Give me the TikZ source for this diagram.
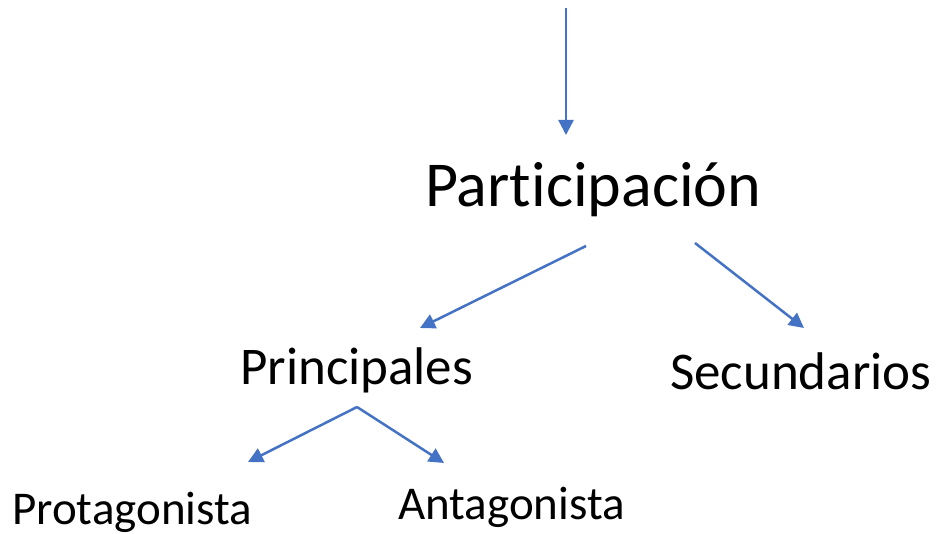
\documentclass[tikz,border=0pt]{standalone}
\usepackage{fontspec}
\setmainfont{Carlito}[Ligatures=NoCommon]
\usetikzlibrary{arrows.meta}
\definecolor{flecha}{HTML}{4472C4}

\begin{document}
\begin{tikzpicture}[x=1pt,y=-1pt,>={Triangle[length=15pt,width=15pt]},
  conector/.style={->,draw=flecha,fill=flecha,line width=2.5pt},
  titulo/.style={anchor=base west,inner sep=0pt,font=\fontsize{64}{76}\selectfont},
  rama/.style={anchor=base west,inner sep=0pt,font=\fontsize{53}{62}\selectfont},
  hoja/.style={anchor=base west,inner sep=0pt,font=\fontsize{47}{56}\selectfont}]
                \useasboundingbox (0,0) rectangle (938,534);
                \node[titulo] (P) at (425,207) {Participación};
                \node[rama] (PR) at (240,385) {Principales};
                \node[rama] (SE) at (670,390) {Secundarios};
                \node[hoja] (PT) at (12,525) {Protagonista};
                \node[hoja] (AN) at (398,520) {Antagonista};
                \coordinate (entrada) at (566,8);
                \coordinate (Parriba) at (566,135);
                \coordinate (Pizq) at (586,246);
                \coordinate (Pder) at (695,243);
                \coordinate (PRarriba) at (420,328);
                \coordinate (SEarriba) at (804,328);
                \coordinate (PRabajo) at (357,407);
                \coordinate (PTarriba) at (248,462);
                \coordinate (ANarriba) at (444,463);
                \draw[conector] (entrada) -- (Parriba);
                \draw[conector] (Pizq) -- (PRarriba);
                \draw[conector] (Pder) -- (SEarriba);
                \draw[conector] (PRabajo) -- (PTarriba);
                \draw[conector] (PRabajo) -- (ANarriba);
            \end{tikzpicture}
\end{document}
